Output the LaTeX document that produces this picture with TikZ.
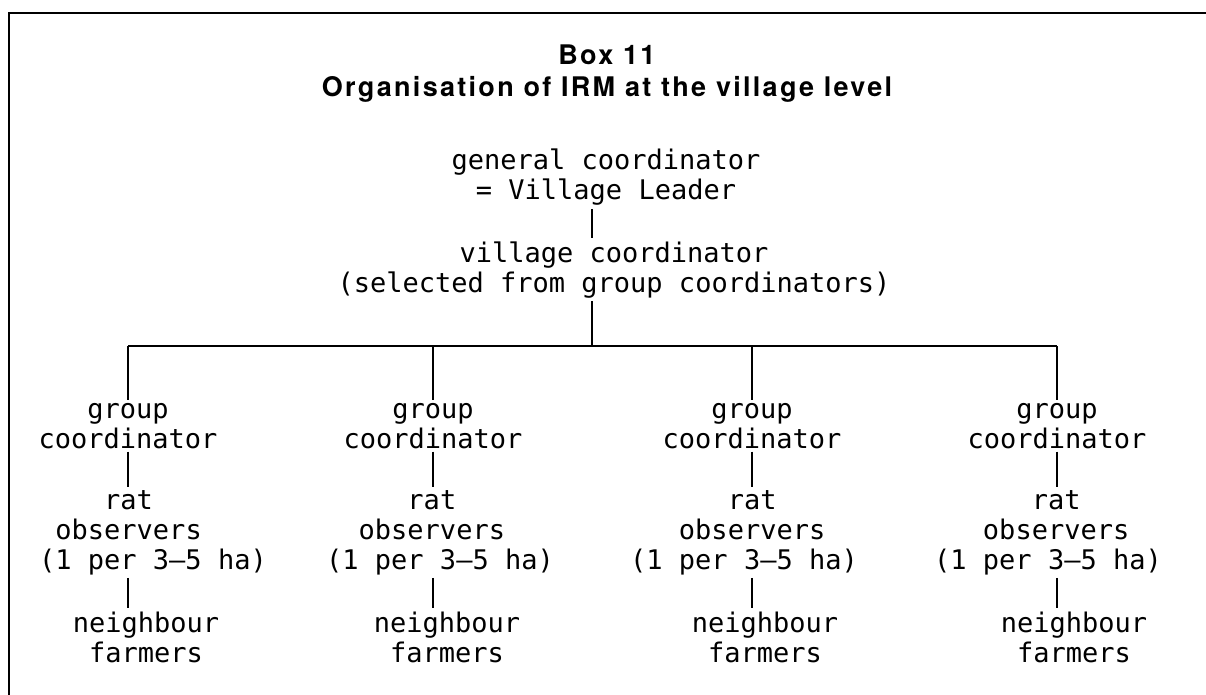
\documentclass[tikz,border=0pt]{standalone}
\usepackage{fontspec}
\usepackage{tikz}
\setmonofont{DejaVu Sans Mono}
\newfontfamily\boxttlfont[LetterSpace=8.5]{TeX Gyre Heros}

\begin{document}
\begin{tikzpicture}[x=1pt,y=-1pt,
  lbl/.style={font=\ttfamily\fontsize{27}{30}\selectfont,inner xsep=0pt,inner ysep=3pt,anchor=base},
  ttl/.style={font=\boxttlfont\bfseries\fontsize{27}{32}\selectfont,align=center,anchor=base},
  conn/.style={line width=1.4pt}]
\useasboundingbox (0,0) rectangle (1206,695);
\draw[line width=1.7pt] (9,695) -- (9,13) -- (1206,13);

\path (607,97) node[ttl] (ttl) {Box 11\\Organisation of IRM at the village level};

\path (606,200) node[lbl,align=center] (gen) {general coordinator\\= Village Leader};
\path (614,292) node[lbl,align=center] (vil) {village coordinator\\(selected from group coordinators)};
\coordinate (bar) at (592,346);

% group coordinators
\path (128,448) node[lbl,align=center] (grp1) {group\\coordinator};
\path (433,448) node[lbl,align=center] (grp2) {group\\coordinator};
\path (752,448) node[lbl,align=center] (grp3) {group\\coordinator};
\path (1057,448) node[lbl,align=center] (grp4) {group\\coordinator};

% rat observers
\path (153,569) node[lbl,align=left] (rat1) {~~~~rat\\~observers\\(1 per 3–5 ha)};
\path (440,569) node[lbl,align=left] (rat2) {~~~~~rat\\~~observers\\(1 per 3–5 ha)};
\path (744,569) node[lbl,align=left] (rat3) {~~~~~~rat\\~~~observers\\(1 per 3–5 ha)};
\path (1048,569) node[lbl,align=left] (rat4) {~~~~~~rat\\~~~observers\\(1 per 3–5 ha)};

% neighbour farmers
\path (146,662) node[lbl,align=center] (nb1) {neighbour\\farmers};
\path (447,662) node[lbl,align=center] (nb2) {neighbour\\farmers};
\path (765,662) node[lbl,align=center] (nb3) {neighbour\\farmers};
\path (1074,662) node[lbl,align=center] (nb4) {neighbour\\farmers};

\draw[conn] (gen.south -| bar) -- (vil.north -| bar);
\draw[conn] (vil.south -| bar) -- (bar);
\draw[conn] (grp1.north |- bar) -- (grp4.north |- bar);

\draw[conn] (grp1.north |- bar) -- (grp1.north);
\draw[conn] (grp2.north |- bar) -- (grp2.north);
\draw[conn] (grp3.north |- bar) -- (grp3.north);
\draw[conn] (grp4.north |- bar) -- (grp4.north);

\draw[conn] (grp1.south) -- (rat1.north -| grp1);
\draw[conn] (grp2.south) -- (rat2.north -| grp2);
\draw[conn] (grp3.south) -- (rat3.north -| grp3);
\draw[conn] (grp4.south) -- (rat4.north -| grp4);

\draw[conn] (rat1.south -| grp1) -- (nb1.north -| grp1);
\draw[conn] (rat2.south -| grp2) -- (nb2.north -| grp2);
\draw[conn] (rat3.south -| grp3) -- (nb3.north -| grp3);
\draw[conn] (rat4.south -| grp4) -- (nb4.north -| grp4);
\end{tikzpicture}
\end{document}
